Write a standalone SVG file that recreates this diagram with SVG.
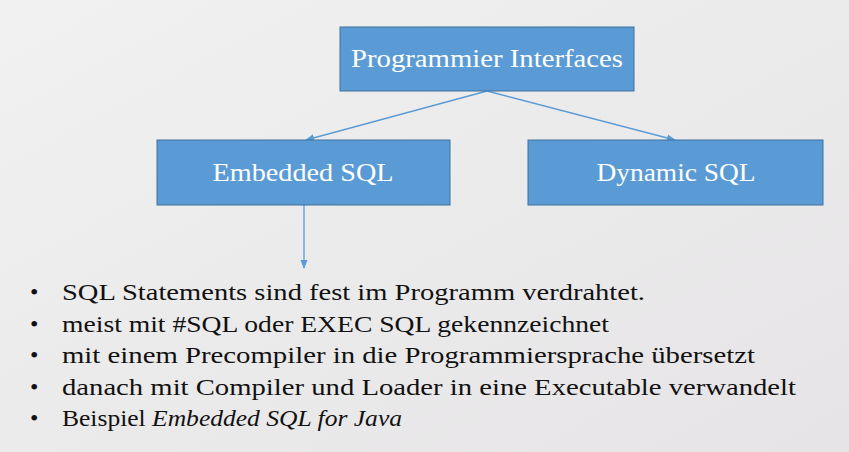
<svg xmlns="http://www.w3.org/2000/svg" width="849" height="452" viewBox="0 0 849 452">
<defs>
<linearGradient id="bg" x1="0" y1="0" x2="1" y2="1"><stop offset="0" stop-color="#f1f1f1"/><stop offset="1" stop-color="#e6e4e6"/></linearGradient>
<marker id="ah" viewBox="0 0 10 10" refX="9" refY="5" markerWidth="7" markerHeight="7" orient="auto"><path d="M0,1 L10,5 L0,9 z" fill="#5b9bd5"/></marker>
<style>
.box{fill:#5b9bd5;stroke:#41719c;stroke-width:1}
.bt{font-family:"Liberation Serif","DejaVu Serif",serif;font-size:26px;fill:#fff;text-anchor:middle}
.li{font-family:"Liberation Serif","DejaVu Serif",serif;font-size:24px;fill:#111}
.c{stroke:#5b9bd5;stroke-width:1.3;fill:none;marker-end:url(#ah)}
</style>
</defs>
<rect width="849" height="452" fill="url(#bg)"/>
<g id="connectors">
<line class="c" x1="487" y1="91" x2="306" y2="140"/>
<line class="c" x1="487" y1="91" x2="675" y2="140"/>
<line class="c" x1="304" y1="205" x2="304" y2="268"/>
</g>
<g id="n-prog"><rect class="box" x="340" y="27" width="294" height="64"/><text class="bt" x="487" y="67" textLength="272" lengthAdjust="spacingAndGlyphs">Programmier Interfaces</text></g>
<g id="n-emb"><rect class="box" x="157" y="140" width="293" height="65"/><text class="bt" x="303" y="181" textLength="181" lengthAdjust="spacingAndGlyphs">Embedded SQL</text></g>
<g id="n-dyn"><rect class="box" x="528" y="140" width="295" height="65"/><text class="bt" x="676" y="181" textLength="159" lengthAdjust="spacingAndGlyphs">Dynamic SQL</text></g>
<g id="list" class="li">
<text x="30" y="300">•</text><text x="62" y="300" textLength="583" lengthAdjust="spacingAndGlyphs">SQL Statements sind fest im Programm verdrahtet.</text>
<text x="30" y="332">•</text><text x="62" y="332" textLength="547" lengthAdjust="spacingAndGlyphs">meist mit #SQL oder EXEC SQL gekennzeichnet</text>
<text x="30" y="363">•</text><text x="62" y="363" textLength="693" lengthAdjust="spacingAndGlyphs">mit einem Precompiler in die Programmiersprache übersetzt</text>
<text x="30" y="395">•</text><text x="62" y="395" textLength="734" lengthAdjust="spacingAndGlyphs">danach mit Compiler und Loader in eine Executable verwandelt</text>
<text x="30" y="426">•</text><text x="62" y="426" textLength="340" lengthAdjust="spacingAndGlyphs">Beispiel <tspan font-style="italic">Embedded SQL for Java</tspan></text>
</g>
</svg>
